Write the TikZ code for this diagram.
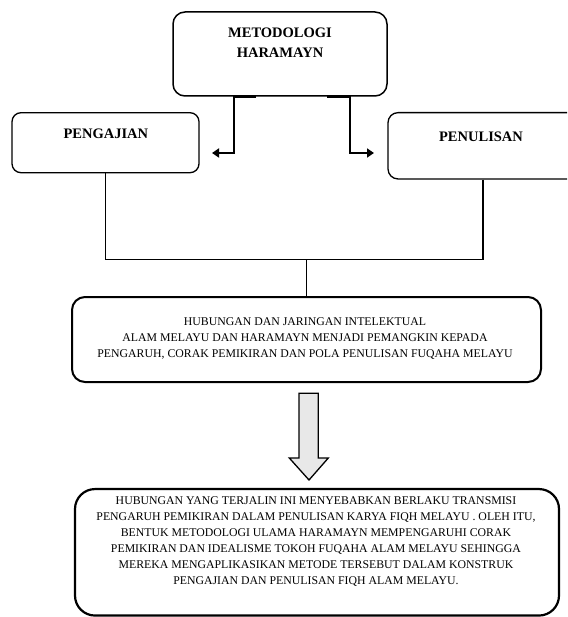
\documentclass[tikz,border=0pt]{standalone}
\usepackage{fontspec}
\setmainfont{Liberation Serif}
\usetikzlibrary{arrows.meta}
\begin{document}
\begin{tikzpicture}[x=1pt,y=-1pt,
  box/.style={draw, rounded corners=#1, inner sep=0pt},
  box/.default=10pt,
  head/.style={font=\fontsize{14.5}{20.3}\selectfont\bfseries, align=center, inner sep=0pt},
  body/.style={font=\fontsize{11.8}{16}\selectfont, align=center, inner sep=0pt},
  elbow/.style={line width=2pt, -{Triangle[length=7pt,width=9pt]}},
  joinline/.style={line width=1.3pt},
  blockarrow/.style={draw, line width=1.3pt, fill=gray!18, line join=miter}
]
\useasboundingbox (0,0) rectangle (567,617);
\clip (0,0) rectangle (567,617);

% boxes
\node[box=12pt, line width=1.5pt, minimum width=214pt, minimum height=84pt] (top) at (280,54) {};
\node[head] (toptext) at (280,43) {METODOLOGI\\HARAMAYN};

\node[box=9pt, line width=1.3pt, minimum width=187pt, minimum height=60pt] (lbox) at (105.5,142.7) {};
\node[head] (ltext) at (105.8,134) {PENGAJIAN};

\node[box=10pt, line width=1.3pt, minimum width=190pt, minimum height=66.3pt] (rbox) at (483,145.8) {};
\node[head] (rtext) at (481,137) {PENULISAN};

\node[box=13pt, line width=2pt, minimum width=469pt, minimum height=85pt] (mid) at (306.5,339.5) {};
\node[body] (midtext) at (305,339) {HUBUNGAN DAN JARINGAN INTELEKTUAL\\
ALAM MELAYU DAN HARAMAYN MENJADI PEMANGKIN KEPADA\\
PENGARUH, CORAK PEMIKIRAN DAN POLA PENULISAN FUQAHA MELAYU};

\node[box=20pt, line width=2.2pt, minimum width=484pt, minimum height=126.5pt] (bot) at (317,552.3) {};
\node[body] (bottext) at (316,541.3) {HUBUNGAN YANG TERJALIN INI MENYEBABKAN BERLAKU TRANSMISI\\
PENGARUH PEMIKIRAN DALAM PENULISAN KARYA FIQH MELAYU . OLEH ITU,\\
BENTUK METODOLOGI ULAMA HARAMAYN MEMPENGARUHI CORAK\\
PEMIKIRAN DAN IDEALISME TOKOH FUQAHA ALAM MELAYU SEHINGGA\\
MEREKA MENGAPLIKASIKAN METODE TERSEBUT DALAM KONSTRUK\\
PENGAJIAN DAN PENULISAN FIQH ALAM MELAYU.};

% free ends of the elbow arrows
\coordinate (ltip) at (212,153);
\coordinate (rtip) at (374,153);
\coordinate (junc) at (306.7,259.5);

% elbow arrows from the top box
\draw[elbow] ([xshift=-24pt]top.south) -- ([xshift=-46pt]top.south) |- (ltip);
\draw[elbow] ([xshift=47pt]top.south) -- ([xshift=70pt]top.south) |- (rtip);

% joining lines
\draw[joinline] (lbox.south) |- (junc);
\draw[joinline] (rbox.south) |- (junc);
\draw[joinline] (junc) -- (junc |- mid.north);

% block arrow
\draw[blockarrow] (299,393.3) -- (318.3,393.3) -- (318.3,458) -- (328.3,458)
  -- (309,480) -- (289.3,458) -- (299,458) -- cycle;
\end{tikzpicture}
\end{document}
